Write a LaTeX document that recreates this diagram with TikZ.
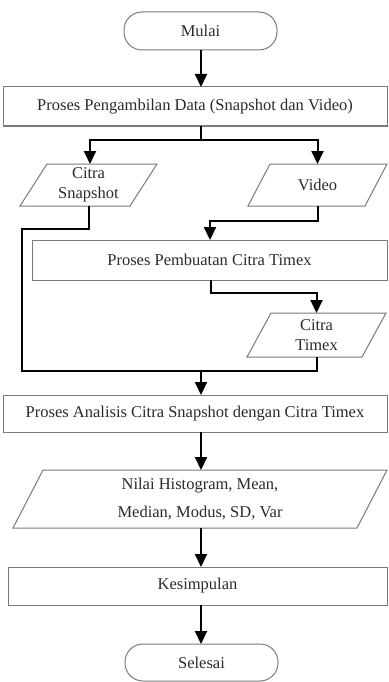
\documentclass[tikz,border=0pt]{standalone}
\usepackage{fontspec}
\setmainfont{Liberation Serif}
\usetikzlibrary{arrows.meta}
\definecolor{edgegray}{HTML}{7A7A7A}
\definecolor{txt}{HTML}{2A2A2A}
\tikzset{
  box/.style={draw=edgegray, line width=1pt, rectangle, outer sep=0pt, inner sep=0pt,
    text=txt, font=\fontsize{16.5}{20}\selectfont, align=center},
  term/.style={box, rounded corners=18pt},
  paranode/.style={rectangle, outer sep=0pt, inner sep=0pt, text=txt,
    font=\fontsize{16.5}{20}\selectfont, align=center},
  paraedge/.style={draw=edgegray, line width=1pt, line join=miter},
  conn/.style={line width=2pt, black, line join=miter},
  arr/.style={conn, -{Triangle[width=12pt,length=13pt]}}
}
\begin{document}
\begin{tikzpicture}[x=1pt,y=-1pt]
\useasboundingbox (0,0) rectangle (388,682);
% nodes
\node[term, minimum width=153pt, minimum height=38pt] (mulai) at (200.5,31) {Mulai};
\node[box, minimum width=384pt, minimum height=39pt] (p1) at (195,106.5) {Proses Pengambilan Data (Snapshot dan Video)};
\node[paranode, minimum width=137pt, minimum height=42pt] (snap) at (88.5,185) {Citra\\Snapshot};
\node[paranode, minimum width=139pt, minimum height=42pt] (video) at (317.5,185) {Video};
\node[box, minimum width=355pt, minimum height=40pt] (p2) at (209.5,260) {Proses Pembuatan Citra Timex};
\node[paranode, minimum width=139pt, minimum height=44pt] (timex) at (316.5,335) {Citra\\Timex};
\node[box, minimum width=384pt, minimum height=37pt] (p3) at (195,413.5) {Proses Analisis Citra Snapshot dengan Citra Timex};
\node[paranode, minimum width=374pt, minimum height=58pt, font=\fontsize{16.5}{27.5}\selectfont] (nilai) at (200,499) {Nilai Histogram, Mean,\\Median, Modus, SD, Var};
\node[box, minimum width=379pt, minimum height=38pt] (p4) at (197.5,586) {Kesimpulan};
\node[term, minimum width=153pt, minimum height=37pt] (selesai) at (201.5,662.5) {Selesai};
% parallelogram outlines
\draw[paraedge] ([xshift=27pt]snap.north west) -- (snap.north east) -- ([xshift=-27pt]snap.south east) -- (snap.south west) -- cycle;
\draw[paraedge] ([xshift=22pt]video.north west) -- (video.north east) -- ([xshift=-22pt]video.south east) -- (video.south west) -- cycle;
\draw[paraedge] ([xshift=24pt]timex.north west) -- (timex.north east) -- ([xshift=-24pt]timex.south east) -- (timex.south west) -- cycle;
\draw[paraedge] ([xshift=30pt]nilai.north west) -- (nilai.north east) -- ([xshift=-30pt]nilai.south east) -- (nilai.south west) -- cycle;
% helper coordinates
\coordinate (split) at (201,140);
\coordinate (join) at (201,371);
% connectors
\draw[arr] (mulai.south -| split) -- (p1.north -| split);
\draw[conn] (p1.south -| split) -- (split);
\draw[arr] (split) -| ([xshift=1.5pt]snap.north);
\draw[arr] (split) -| (video.north);
\draw[conn] (snap.south) -- ++(0,23) -| (22,371) -- (join);
\draw[conn] (timex.south) -- (timex.south |- join) -- (join);
\draw[arr] (join) -- (p3.north -| join);
\draw[arr] (video.south) -- ++(0,15) -| (210,240);
\draw[arr] (211,280) -- (211,293) -| (timex.north);
\draw[arr] (p3.south -| join) -- (nilai.north -| join);
\draw[arr] (nilai.south -| join) -- (p4.north -| join);
\draw[arr] (p4.south -| join) -- (selesai.north -| join);
\end{tikzpicture}
\end{document}
